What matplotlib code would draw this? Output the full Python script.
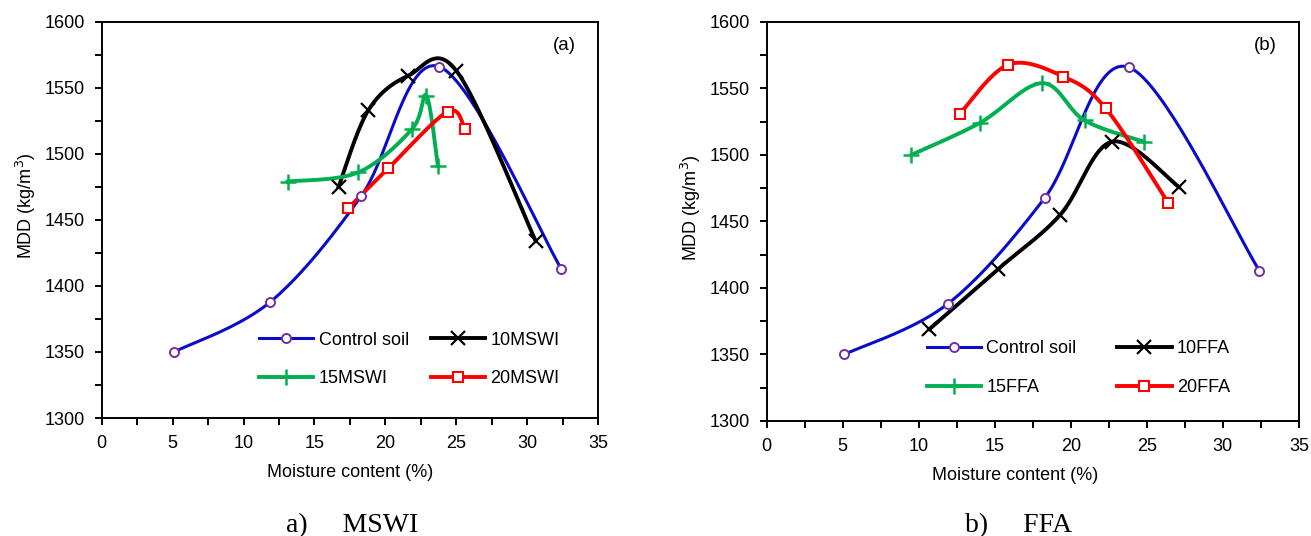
"""
Compaction curves: MDD vs moisture content for MSWI and FFA blends.
"""

import matplotlib.pyplot as plt
import numpy as np
from matplotlib.ticker import MultipleLocator

plt.rcParams['font.family'] = ['Liberation Sans', 'DejaVu Sans']

# Control soil (same in both panels)
control_w = [5.1, 11.9, 18.3, 23.8, 32.4]
control_mdd = [1350, 1388, 1468, 1566, 1413]

# MSWI blends
mswi10_w = [16.7, 18.8, 21.6, 25.0, 30.6]
mswi10_mdd = [1475, 1533, 1559, 1563, 1434]
mswi15_w = [13.1, 18.1, 21.9, 22.9, 23.7]
mswi15_mdd = [1479, 1486, 1519, 1544, 1491]
mswi20_w = [17.4, 20.2, 24.4, 25.6]
mswi20_mdd = [1459, 1489, 1532, 1519]

# FFA blends
ffa10_w = [10.7, 15.2, 19.3, 22.7, 27.1]
ffa10_mdd = [1369, 1414, 1455, 1510, 1476]
ffa15_w = [9.5, 14.0, 18.1, 20.9, 24.8]
ffa15_mdd = [1500, 1524, 1554, 1526, 1510]
ffa20_w = [12.7, 15.9, 19.5, 22.3, 26.4]
ffa20_mdd = [1531, 1568, 1559, 1535, 1464]


def smooth(x, y, n=40):
    """Catmull-Rom style smoothed line through the points (like Excel's smoothed lines)."""
    p = np.column_stack([x, y]).astype(float)
    p = np.vstack([p[0], p, p[-1]])
    out = []
    t = np.linspace(0, 1, n)[:, None]
    for i in range(1, len(p) - 2):
        p0, p1, p2, p3 = p[i - 1], p[i], p[i + 1], p[i + 2]
        c1 = p1 + (p2 - p0) / 6
        c2 = p2 - (p3 - p1) / 6
        seg = ((1 - t) ** 3 * p1 + 3 * (1 - t) ** 2 * t * c1
               + 3 * (1 - t) * t ** 2 * c2 + t ** 3 * p2)
        out.append(seg if i == 1 else seg[1:])
    out = np.vstack(out)
    return out[:, 0], out[:, 1]


styles = {
    'control': dict(color='#0A0ACB', lw=2.2, marker='o', ms=6.5, mfc='white',
                    mec='#7030A0', mew=1.4),
    '10': dict(color='black', lw=2.8, marker='x', ms=10, mec='black', mew=1.6),
    '15': dict(color='#00B050', lw=2.8, marker='+', ms=11, mec='#00B050', mew=1.8),
    '20': dict(color='#FF0000', lw=2.8, marker='s', ms=6.5, mfc='white',
               mec='#FF0000', mew=1.5),
}


def draw_series(ax, w, mdd, key, label):
    st = styles[key]
    xs, ys = smooth(w, mdd)
    ax.plot(xs, ys, color=st['color'], lw=st['lw'], zorder=2)
    ax.plot(w, mdd, linestyle='none', marker=st['marker'], ms=st['ms'],
            mfc=st.get('mfc', 'none'), mec=st['mec'], mew=st['mew'], zorder=3)
    # proxy for legend
    h, = ax.plot([], [], color=st['color'], lw=st['lw'], marker=st['marker'], ms=st['ms'],
                 mfc=st.get('mfc', 'none'), mec=st['mec'], mew=st['mew'], label=label)
    return h


def style_axes(ax):
    ax.set_xlim(0, 35)
    ax.set_ylim(1300, 1600)
    ax.xaxis.set_major_locator(MultipleLocator(5))
    ax.xaxis.set_minor_locator(MultipleLocator(2.5))
    ax.yaxis.set_major_locator(MultipleLocator(50))
    ax.yaxis.set_minor_locator(MultipleLocator(25))
    ax.tick_params(which='both', direction='out', length=5, width=1.4,
                   labelsize=13, pad=7, top=False, right=False)
    for sp in ax.spines.values():
        sp.set_linewidth(1.4)
    ax.set_xlabel('Moisture content (%)', fontsize=13)
    ax.set_ylabel('MDD (kg/m$^3$)', fontsize=13)


fig = plt.figure(figsize=(13.11, 5.36), dpi=100)
ax1 = fig.add_axes([0.0776, 0.2201, 0.3786, 0.7394])
ax2 = fig.add_axes([0.5848, 0.2146, 0.4060, 0.7444])

# Panel (a): MSWI
h_a = [draw_series(ax1, control_w, control_mdd, 'control', 'Control soil'),
       draw_series(ax1, mswi10_w, mswi10_mdd, '10', '10MSWI'),
       draw_series(ax1, mswi15_w, mswi15_mdd, '15', '15MSWI'),
       draw_series(ax1, mswi20_w, mswi20_mdd, '20', '20MSWI')]

# Panel (b): FFA
h_b = [draw_series(ax2, control_w, control_mdd, 'control', 'Control soil'),
       draw_series(ax2, ffa10_w, ffa10_mdd, '10', '10FFA'),
       draw_series(ax2, ffa15_w, ffa15_mdd, '15', '15FFA'),
       draw_series(ax2, ffa20_w, ffa20_mdd, '20', '20FFA')]

for ax in (ax1, ax2):
    style_axes(ax)

ax1.xaxis.set_label_coords(0.5, -0.115)
ax1.yaxis.set_label_coords(-0.128, 0.535)
ax2.xaxis.set_label_coords(0.466, -0.115)
ax2.yaxis.set_label_coords(-0.12, 0.535)

ax1.text(0.933, 0.941, '(a)', transform=ax1.transAxes, fontsize=13.5,
         ha='center', va='center')
ax2.text(0.936, 0.942, '(b)', transform=ax2.transAxes, fontsize=13.5,
         ha='center', va='center')

# legend rows: (control, 10) then (15, 20); ncol fills column by column
leg_kw = dict(ncol=2, frameon=False, fontsize=13, loc='upper left',
              handlelength=3.0, handletextpad=0.3,
              labelspacing=1.2, borderpad=0, borderaxespad=0)
order = [0, 2, 1, 3]
ax1.legend([h_a[i] for i in order], [h_a[i].get_label() for i in order],
           bbox_to_anchor=(0.317, 0.218), columnspacing=1.2, **leg_kw)
ax2.legend([h_b[i] for i in order], [h_b[i].get_label() for i in order],
           bbox_to_anchor=(0.301, 0.202), columnspacing=2.25, **leg_kw)

serif = ['Liberation Serif', 'DejaVu Serif']
fig.text(352 / 1311, 1 - 532 / 536, 'a)     MSWI', family=serif,
         fontsize=20, ha='center', va='baseline')
fig.text(1019 / 1311, 1 - 532 / 536, 'b)     FFA', family=serif,
         fontsize=20, ha='center', va='baseline')

plt.savefig('out.png', dpi=100)
